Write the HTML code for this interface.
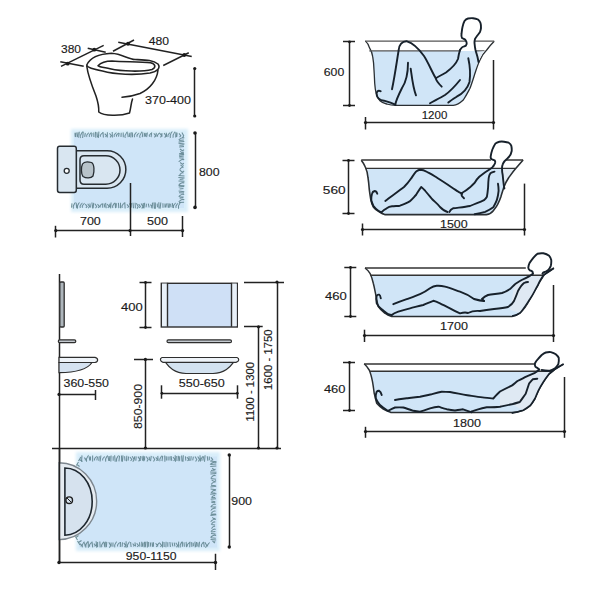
<!DOCTYPE html>
<html><head><meta charset="utf-8">
<style>
html,body{margin:0;padding:0;background:#fff;}
svg{display:block;}
text{font-family:"Liberation Sans",sans-serif;font-size:11.8px;fill:#1a1a1a;stroke:#1a1a1a;stroke-width:0.15px;}
</style></head>
<body>
<svg width="600" height="600" viewBox="0 0 600 600">
<defs>
<filter id="soft" x="-10%" y="-10%" width="120%" height="120%"><feGaussianBlur stdDeviation="1.6"/></filter>
<filter id="blur05"><feGaussianBlur stdDeviation="0.35"/></filter>
</defs>
<rect width="600" height="600" fill="#fff"/>

<g>
<line x1="61" y1="66.3" x2="103.7" y2="45.3" stroke="#222" stroke-width="1.5" stroke-linecap="butt"/>
<line x1="60.3" y1="61.7" x2="83.7" y2="66.3" stroke="#222" stroke-width="1.5" stroke-linecap="butt"/>
<line x1="87.7" y1="48.3" x2="105.7" y2="52.3" stroke="#222" stroke-width="1.5" stroke-linecap="butt"/>
<line x1="118.25" y1="42.25" x2="191.75" y2="56.5" stroke="#222" stroke-width="1.5" stroke-linecap="butt"/>
<line x1="113" y1="51.25" x2="134" y2="40" stroke="#222" stroke-width="1.5" stroke-linecap="butt"/>
<line x1="163.25" y1="65.5" x2="188.75" y2="52.75" stroke="#222" stroke-width="1.5" stroke-linecap="butt"/>
<line x1="194.5" y1="68.5" x2="194.5" y2="116" stroke="#222" stroke-width="1.5" stroke-linecap="butt"/>
<circle cx="67.7" cy="63.7" r="1.9" fill="#1a1a1a"/>
<circle cx="94.3" cy="49.7" r="1.9" fill="#1a1a1a"/>
<circle cx="128" cy="43.75" r="1.9" fill="#1a1a1a"/>
<circle cx="184.25" cy="55" r="1.9" fill="#1a1a1a"/>
<circle cx="194.75" cy="68.5" r="1.6" fill="#1a1a1a"/>
<circle cx="194.75" cy="116" r="1.6" fill="#1a1a1a"/>
<g fill="#fff" stroke="#222" stroke-width="1.55" stroke-linecap="round" stroke-linejoin="round">
<path d="M86.75,66 C88,76 92,86 96,96 C98,102 99,107 98.75,112 C104,116 120,116.5 129.5,113 C131,108 131,103 132.5,99"/>
<path fill="none" d="M158,70 C157,80 150,89 140,93.5 C132,96.5 126,97 122,97.25"/>
<path d="M86.75,65 C90,58 98,54 111.5,53.3 C122,54 128,59 135,59.5 C145,60 153,60 158,64 C161,68 157,71.5 150,73 C135,75.5 115,74.5 102.5,71 C93,69 87,67.5 86.75,65 Z"/>
<path d="M98,65.75 C101,62.5 106,61 112,61 C124,62 140,61.5 150.5,62.75 C156,64 156,67.5 152,69.5 C142,72 122,71.5 110,68.75 C104,67.5 99,67 98,65.75 Z"/>
</g>
<text x="61" y="53.2" textLength="20.00" lengthAdjust="spacingAndGlyphs" style="font-size:11.8px">380</text>
<text x="148.7" y="45.1" textLength="20.30" lengthAdjust="spacingAndGlyphs" style="font-size:11.8px">480</text>
<text x="145" y="103.8" textLength="46.00" lengthAdjust="spacingAndGlyphs" style="font-size:11.8px">370-400</text>
</g>
<rect x="71" y="129" width="117" height="83" fill="#d9eefa" filter="url(#soft)"/>
<rect x="74" y="134" width="110" height="74" fill="#cfe5f8" filter="url(#blur05)"/>
<path d="M75.0,132.8 l0.2,4.0 M76.3,132.5 l-0.7,4.6 M78.0,132.4 l-0.7,4.8 M79.3,131.8 l-0.6,6.0 M80.7,138.0 c-1.5,-3.8 2.5,-5.7 1.5,-6.3 M83.3,131.6 l-0.7,6.4 M85.3,132.8 l-0.6,4.0 M86.8,136.9 c-1.5,-2.5 2.5,-3.7 1.5,-4.1 M89.4,137.1 c-1.5,-2.8 2.5,-4.2 1.5,-4.7 M92.0,132.9 l-0.5,3.7 M93.8,132.6 l0.1,4.5 M95.5,131.9 l0.3,5.9 M96.9,132.2 l0.6,5.1 M98.9,131.6 l-0.6,6.4 M100.5,136.8 c-1.5,-2.4 2.5,-3.6 1.5,-4.0 M103.0,132.0 l0.4,5.5 M104.8,133.6 l1.8,2.2 l-1.2,1.2 M107.4,132.2 l-0.1,5.3 M109.5,133.3 l1.8,2.5 l-1.2,1.5 M112.2,132.0 l0.2,5.6 M114.3,137.0 c-1.5,-2.6 2.5,-4.0 1.5,-4.4 M116.7,136.6 c-1.5,-2.2 2.5,-3.3 1.5,-3.6 M119.2,132.8 l-0.7,3.9 M121.2,132.7 l-0.2,4.3 M123.2,132.4 l0.1,4.9 M125.3,137.9 c-1.5,-3.7 2.5,-5.5 1.5,-6.1 M127.6,132.5 l0.6,4.6 M129.8,132.8 l-0.4,4.1 M131.2,132.2 l-0.4,5.3 M132.4,132.5 l0.1,4.7 M134.5,137.3 c-1.5,-3.0 2.5,-4.6 1.5,-5.1 M137.2,136.7 c-1.5,-2.2 2.5,-3.4 1.5,-3.7 M140.1,137.9 c-1.5,-3.7 2.5,-5.5 1.5,-6.1 M142.9,132.4 l-0.6,4.7 M144.7,132.9 l-0.5,3.8 M146.1,132.9 l-0.8,3.7 M147.4,132.5 l-0.8,4.6 M149.5,136.8 c-1.5,-2.4 2.5,-3.6 1.5,-4.0 M151.7,132.5 l-0.6,4.6 M153.8,133.3 l1.8,2.5 l-1.2,1.5 M156.3,132.9 l-0.3,3.9 M157.7,136.8 c-1.5,-2.4 2.5,-3.6 1.5,-4.0 M159.8,133.2 l1.8,2.6 l-1.2,1.6 M161.9,133.0 l0.0,3.7 M164.1,133.0 l1.8,2.8 l-1.2,1.8 M166.3,132.8 l0.4,4.1 M168.1,137.1 c-1.5,-2.7 2.5,-4.1 1.5,-4.5 M170.3,138.0 c-1.5,-3.9 2.5,-5.8 1.5,-6.5 M173.1,137.8 c-1.5,-3.6 2.5,-5.4 1.5,-6.0 M175.9,132.3 l-0.2,5.1 M177.1,132.6 l-0.4,4.4 M179.0,133.4 l1.8,2.4 l-1.2,1.4 M181.9,132.6 l1.8,3.2 l-1.2,2.2" fill="none" stroke="#62858f" stroke-width="1.05" opacity="0.9"/>
<path d="M72.0,203.4 l-0.5,4.2 M73.4,208.6 c-1.5,-3.7 2.5,-5.6 1.5,-6.2 M76.2,202.8 l0.5,5.5 M77.5,208.6 c-1.5,-3.7 2.5,-5.6 1.5,-6.2 M80.3,208.0 c-1.5,-3.0 2.5,-4.5 1.5,-5.0 M82.5,207.8 c-1.5,-2.7 2.5,-4.1 1.5,-4.5 M85.3,204.1 l1.8,2.4 l-1.2,1.4 M87.7,203.7 l1.8,2.8 l-1.2,1.8 M89.9,203.5 l0.6,4.0 M91.9,202.5 l0.8,6.0 M93.7,202.9 l-0.6,5.2 M94.9,203.8 l1.8,2.7 l-1.2,1.7 M97.5,204.1 l1.8,2.4 l-1.2,1.4 M100.3,207.6 c-1.5,-2.5 2.5,-3.8 1.5,-4.2 M102.6,203.4 l0.1,4.3 M104.1,203.5 l0.7,4.0 M105.6,202.9 l0.6,5.3 M107.2,204.0 l1.8,2.5 l-1.2,1.5 M109.8,203.7 l-0.1,3.6 M111.1,202.5 l-0.5,5.9 M112.8,208.1 c-1.5,-3.1 2.5,-4.7 1.5,-5.2 M115.1,202.9 l0.5,5.2 M116.4,203.3 l-0.4,4.3 M118.4,202.9 l0.4,5.2 M120.5,202.8 l0.0,5.4 M122.2,207.9 c-1.5,-2.9 2.5,-4.4 1.5,-4.9 M124.8,202.3 l0.3,6.3 M126.9,204.3 l1.8,2.2 l-1.2,1.2 M129.4,203.5 l1.8,3.0 l-1.2,2.0 M131.5,203.1 l-0.7,4.9 M133.0,202.7 l0.5,5.5 M135.1,202.7 l0.3,5.7 M136.4,203.3 l1.8,3.2 l-1.2,2.2 M138.6,204.1 l1.8,2.4 l-1.2,1.4 M141.1,203.5 l1.8,3.0 l-1.2,2.0 M143.3,203.0 l-0.3,5.1 M144.7,202.7 l-0.8,5.7 M146.4,203.7 l-0.3,3.6 M148.3,203.6 l0.8,3.8 M150.3,204.6 l1.8,1.9 l-1.2,0.9 M152.5,202.6 l-0.4,5.9 M153.9,202.4 l0.5,6.2 M155.3,202.4 l0.1,6.3 M157.2,203.6 l0.3,3.7 M158.8,202.3 l0.2,6.3 M160.8,202.5 l-0.7,6.1 M162.9,203.2 l0.1,4.6 M165.0,203.5 l0.0,4.0 M166.5,203.5 l-0.7,4.0 M167.9,203.3 l0.4,4.5 M169.4,203.5 l-0.2,4.1 M170.6,203.7 l0.4,3.6 M172.3,203.0 l0.7,5.0 M173.6,207.9 c-1.5,-2.9 2.5,-4.4 1.5,-4.8 M176.1,207.9 c-1.5,-2.8 2.5,-4.3 1.5,-4.7 M178.6,208.7 c-1.5,-3.9 2.5,-5.8 1.5,-6.4" fill="none" stroke="#62858f" stroke-width="1.05" opacity="0.9"/>
<path d="M184.3,138.0 c-3.4,-1.5 -5.1,2.5 -5.6,1.5 M179.2,140.6 l4.6,-0.7 M178.6,142.0 l5.7,-0.4 M178.5,143.3 l6.0,0.6 M179.4,145.2 l4.3,-0.3 M179.1,146.9 l4.9,-0.4 M179.9,149.0 l2.6,1.8 l1.6,-1.2 M180.3,151.3 l2.2,1.8 l1.2,-1.2 M179.2,153.6 l4.7,-0.0 M179.0,155.3 l5.1,-0.8 M179.1,156.8 l4.7,-0.7 M179.4,158.0 l4.3,0.1 M184.2,159.7 c-3.3,-1.5 -4.9,2.5 -5.5,1.5 M180.1,162.5 l2.4,1.8 l1.4,-1.2 M180.5,164.8 l2.0,1.8 l1.0,-1.2 M183.4,167.5 c-2.2,-1.5 -3.3,2.5 -3.7,1.5 M179.8,170.3 l2.7,1.8 l1.7,-1.2 M183.5,173.1 c-2.4,-1.5 -3.6,2.5 -4.0,1.5 M178.5,175.6 l6.0,0.5 M178.4,177.6 l6.2,0.3 M179.7,179.5 l3.7,-0.6 M178.5,181.1 l6.0,0.1 M184.3,182.9 c-3.3,-1.5 -5.0,2.5 -5.6,1.5 M178.5,185.4 l5.9,0.4 M178.7,187.1 l5.5,-0.7 M179.6,189.0 l3.8,-0.4 M178.6,191.0 l5.7,0.8 M179.0,192.7 l5.0,0.3 M184.2,194.6 c-3.3,-1.5 -4.9,2.5 -5.5,1.5 M179.3,196.7 l4.3,0.4 M179.7,198.2 l3.6,-0.7 M184.3,199.7 c-3.4,-1.5 -5.0,2.5 -5.6,1.5 M179.0,202.4 l5.1,-0.1" fill="none" stroke="#62858f" stroke-width="1.05" opacity="0.9"/>
<g stroke="#262c31" stroke-width="1.5" stroke-linejoin="round">
<path d="M76.3,150.8 H107.1 A18.75,18.75 0 0 1 107.1,188.3 H76.3 Z" fill="#d9e6f1"/>
<path d="M84,155.8 H105.8 A14.2,14.2 0 0 1 105.8,184.2 H84 Q80,184.2 80,180 V160 Q80,155.8 84,155.8 Z" fill="#d9e6f1"/>
<rect x="57.5" y="146.3" width="18.8" height="46.2" rx="2.2" fill="#d9e6f1"/>
<path d="M82.5,164 C 84,161.5 88,161.5 91.5,162.5 C 94.5,164 94.5,172 93,176 C 91,178.5 86,178.5 83,176.5 C 81,174 81,167 82.5,164 Z" fill="#b8c3ca" stroke-width="1.3"/>
<circle cx="66.7" cy="170.8" r="2.5" fill="#fff" stroke-width="1.3"/>
</g>
<line x1="195.5" y1="133" x2="195.5" y2="207.4" stroke="#222" stroke-width="1.5" stroke-linecap="butt"/>
<line x1="130.5" y1="183" x2="130.5" y2="236" stroke="#222" stroke-width="1.5" stroke-linecap="butt"/>
<line x1="182.5" y1="216" x2="182.5" y2="237" stroke="#222" stroke-width="1.5" stroke-linecap="butt"/>
<line x1="55.8" y1="230.5" x2="182.6" y2="230.5" stroke="#222" stroke-width="1.5" stroke-linecap="butt"/>
<line x1="55.5" y1="225.8" x2="55.5" y2="237.5" stroke="#222" stroke-width="1.5" stroke-linecap="butt"/>
<circle cx="195" cy="133" r="1.8" fill="#1a1a1a"/>
<circle cx="195" cy="207.4" r="1.8" fill="#1a1a1a"/>
<circle cx="55.8" cy="230.6" r="1.6" fill="#1a1a1a"/>
<circle cx="130" cy="230.6" r="1.6" fill="#1a1a1a"/>
<circle cx="182.6" cy="230.6" r="1.6" fill="#1a1a1a"/>
<text x="199" y="176" textLength="20.60" lengthAdjust="spacingAndGlyphs" style="font-size:11.8px">800</text>
<text x="80" y="225.2" textLength="20.80" lengthAdjust="spacingAndGlyphs" style="font-size:11.8px">700</text>
<text x="147" y="225.3" textLength="21.00" lengthAdjust="spacingAndGlyphs" style="font-size:11.8px">500</text>
<path d="M369.3,50.9 H484 C 480,56 477,63 475,73.3 C 473,80 471,85 470,88.3 C 467,95 465,99 463.3,100 C 460,103 456,105 453.3,105.3 H396 C 391,105.3 388,105 386.7,104 C 383,103 381,102 380,100.7 C 378,98 376.5,95 376,92.7 C 375,89 374.7,86 374.7,83.3 C 374.5,76 374.3,72 374,70 C 373.5,63 373,59 372.7,56.7 C 371.5,53 370.5,51.5 369.3,50.9 Z" fill="#d0e5f7"/>
<path d="M365.3,40.9 C 367.5,43 369,45.5 369.3,47.3 C 371,50 372.2,53 372.7,56.7 C 373.5,61 373.8,65 374,70 C 374.3,74 374.5,79 374.7,83.3 C 375,87 375.3,90 376,92.7 C 377,96 378.5,99 380,100.7 C 382,102.5 384,103.5 386.7,104 C 390,105 393,105.3 396,105.3 H453.3 C 457,105 460,103 463.3,100 C 466,96 468,92 470,88.3 C 472,83 473.5,78 475,73.3 C 477,67 478.5,63 480,60 C 482,55.5 484,52.5 486.7,50 C 489,47 491.5,44 494.2,41.3" stroke="#2a2f33" fill="none" stroke-linejoin="round" stroke-width="1.3"/>
<path d="M365.3,41.1 H465.5 M474.5,41.1 H494.2" stroke="#555" stroke-width="1.3"/>
<path d="M369.3,50.8 H460.5 M475.5,50.8 H484.5" stroke="#555" stroke-width="1.3"/>
<path d="M477,52 C 478,56 478.5,60 478.3,62 C 480,58 482,54 484.5,51 Z" fill="#e2ecf5"/>
<g stroke="#17212b" stroke-width="1.9" fill="none" stroke-linecap="round" stroke-linejoin="round">
<path d="M460,50 C 461,48.5 461.5,47.5 462.5,47 C 464,46.3 465.5,46 466,45.5 C 466.8,44.5 466.8,43 466.5,42 C 466,40.8 465.5,40 465,39.5 C 464,38.8 462.8,38.5 462,38 C 461.3,36.8 461.3,35.3 461.5,34 C 461.8,31.5 462,29 462.5,27 C 463,24.8 463.6,22.6 464.5,21 C 465.5,19.6 466.7,18.8 468,18.5 C 469.7,18.2 471.3,18.1 473,18.2 C 474.8,18.4 476.5,18.8 478,19.5 C 479.2,20.6 480.1,21.8 480.5,23 C 481,24.7 481.1,26.3 481,28 C 480.8,29.4 480.5,30.7 480,32 C 479.1,33.4 478,34.7 477,36 C 476.2,37 475.5,38 475,39 C 474.6,40.3 474.4,41.7 474.5,43 C 474.7,45.3 475,47.7 475.5,50 C 476.1,52.3 476.9,54.7 477.5,57 C 477.9,58.7 478.2,60.3 478.5,62"/>
<path d="M460,50 C 459,53 458.5,56 458,59 C 456,64 452,68 446,72.5 C 441,75.5 437,77 435.8,78.3 C 436,81 439,84 441.7,86.7"/>
<path d="M435.8,78.3 C 432,72 428,62 424,56 C 419,49 413,43 407,41.3 C 402,41 399,45 398.7,50 C 397,60 395,75 392,89.3"/>
<path d="M408,62.7 C 408,72 406,82 402,88 C 399,94 396,100 395.3,104.7"/>
<path d="M410.7,68.7 C 412,78 413,88 416,95.3"/>
<path d="M380.7,91.3 C 378,89.5 376,92 376.7,95 C 377,98 380,100 384,100.7 C 389,102 393,103.5 395.3,104.7"/>
<path d="M468.3,58.3 C 470,66 470.5,75 469.5,82 C 467,90 460,95 456.7,96.7 C 453,99 450,101 448.3,102.5"/>
<path d="M460,80 C 456,85 452,90 445,95 C 440,98 434,101 430,103.3"/>
</g>
<line x1="349.5" y1="41.7" x2="349.5" y2="105" stroke="#222" stroke-width="1.5" stroke-linecap="butt"/>
<line x1="343" y1="41.5" x2="355" y2="41.5" stroke="#222" stroke-width="1.5" stroke-linecap="butt"/>
<line x1="343" y1="105.5" x2="355" y2="105.5" stroke="#222" stroke-width="1.5" stroke-linecap="butt"/>
<circle cx="349.5" cy="41.9" r="1.4" fill="#1a1a1a"/>
<circle cx="349.5" cy="105.5" r="1.4" fill="#1a1a1a"/>
<line x1="365" y1="122.5" x2="493.3" y2="122.5" stroke="#222" stroke-width="1.5" stroke-linecap="butt"/>
<line x1="365.5" y1="117" x2="365.5" y2="129.5" stroke="#222" stroke-width="1.5" stroke-linecap="butt"/>
<line x1="493.5" y1="60" x2="493.5" y2="129.5" stroke="#222" stroke-width="1.5" stroke-linecap="butt"/>
<circle cx="365.5" cy="122.5" r="1.6" fill="#1a1a1a"/>
<circle cx="493.5" cy="122.5" r="1.6" fill="#1a1a1a"/>
<text x="323.75" y="75.9" textLength="20.45" lengthAdjust="spacingAndGlyphs" style="font-size:11.8px">600</text>
<text x="421.7" y="118.8" textLength="25.60" lengthAdjust="spacingAndGlyphs" style="font-size:11.8px">1200</text>
<path d="M367.3,168.4 H515.5 C 513,171.5 511,174.5 508.5,178 C 506.5,181 505,184 503.8,187.3 C 503,190 502,193 500.9,196.7 C 500.3,198.5 499.5,200.5 498,203.7 C 497,206 495.5,208 493.3,210.7 C 492,212.5 490,214 486.3,214.6 H384.7 C 382,214 381,213 380,212.3 C 377,210.5 374.5,209 373.3,207 C 371.5,204 371,201 370.7,199 C 370,195 369.5,192 369.3,189.7 C 369,185 368.5,181 368,177.7 C 367.7,173 367.5,170 367.3,168.4 Z" fill="#d0e5f7"/>
<path d="M502.5,168.4 H515.5 C 513,171.5 511,174.5 508.5,178 C 506.5,181 505,184 503.8,187.3 C 503.3,183 502.2,178 502,172 Z" fill="#e2ecf5"/>
<path d="M361.3,160.3 C 363,162.5 364.5,165 365.3,167 C 367,170.5 367.7,174 368,177.7 C 368.7,182 369,186 369.3,189.7 C 369.7,193 370.2,196 370.7,199 C 371.3,202 372,204.5 373.3,207 C 375,209.5 377.5,211 380,212.3 C 381.5,213.2 383,214 384.7,214.6 H486.3 C 490,214 492,212.5 493.3,210.7 C 495.5,208 497,206 498,203.7 C 499.5,200.5 500.3,198.5 500.9,196.7 C 502,193 503,190 503.8,187.3 C 505,184 506.5,181 508.5,178 C 511,174.5 513,171.5 515.5,168.7 L 523.1,159.9" stroke="#2a2f33" fill="none" stroke-linejoin="round" stroke-width="1.6"/>
<line x1="361.3" y1="160.1" x2="523.1" y2="160.1" stroke="#333" stroke-width="1.5"/>
<line x1="365.3" y1="168.4" x2="515.5" y2="168.4" stroke="#333" stroke-width="1.4"/>
<path d="M491,161 C 490,156 492,148 496,143.5 C 501,140.5 508,141.5 511,145 C 513,150 510,156 505,161 Z" fill="#fff"/>
<g stroke="#17212b" stroke-width="1.9" fill="none" stroke-linecap="round" stroke-linejoin="round">
<path d="M493.3,166.3 C 494.5,164.5 495.5,163 495.3,162.3 C 495,161 494.7,160.5 494.7,160.3 C 493,159.8 492,159.5 491.7,159.3 C 490.5,158.5 490.5,157.5 490.7,156.3 C 491,154 491.5,152 492.3,149.7 C 493.2,147.5 494,145.5 495.3,143.7 C 496.5,142.5 498,142 499.3,141.7 C 501,141.5 502.5,141.5 504,141.7 C 505.5,141.9 507.3,142.2 508.7,142.7 C 510,143.5 511,144.5 511.3,145.7 C 511.7,147.5 511.8,149.5 511.7,151 C 511.3,153 510.5,155 509.3,156.3 C 508,158 506.5,159.5 504.7,161 C 503.8,162 503.2,163 502.7,164.3 C 502.2,165.5 502,167 502,168.3 C 502,170.5 502.2,173 502.7,175 C 503,178.5 503.4,182 503.8,185 C 504,186.3 504.2,187.5 504.4,188.5"/>
<path d="M493.3,166.3 C 492.8,167 492.2,167.5 491.6,168 C 489.5,169.5 487.5,170.8 485.2,172.2 C 483,173.8 481.2,175.2 479.3,176.8 C 477.5,178.5 476,180.5 474.7,182.7 C 473,184.3 471.5,185.8 470,187.3 C 467.5,189.5 465,191.5 462.2,192.75 C 461,193.5 461.5,195.5 462.2,196.4 C 463,197.3 463.5,197.8 464,198.25"/>
<path d="M462.2,193.7 C 460.5,192.8 459.5,192.3 458.5,191.8 C 455,189.5 451,187 447.5,184.5 C 443,181.5 439,179 434.7,176.25 C 431,174 428,172.5 426.7,171.7 C 424,170 422,169.7 420,169.7 C 418,170 417,171 416,171.7 C 414,174 412.5,176.5 410.7,179 C 408,183 406,185 404,187 C 400,190 397,192.5 393.3,195 C 390.5,197 388,199 385.3,201"/>
<path d="M381.3,212.3 C 383,210.5 385,209 386.7,208.3 C 388.5,207 390,206.5 392,206.3 C 395,206 397.5,206 400,205.7 C 403.5,204.5 406.5,203 409.3,201.7 C 412,199.5 414,197 416,195 C 418,192 419.5,189 421.3,187 C 422.8,188 424,189.5 425.3,191 C 427.5,193.5 429.5,196 432,199 C 435,202 438,204 440,207 C 443,210 445.5,211.5 447.5,212"/>
<path d="M377.3,193.7 C 376.5,191.5 375.5,191 374.7,191 C 373,191.3 372.3,192.5 372,193.7 C 371.3,196 371.2,198 371.3,200.3 C 371.8,202.5 372.5,204 373.3,205.7 C 375,208 376.8,209.8 378.7,211 C 379.8,211.8 380.5,212 381.3,212.3"/>
<path d="M494.5,171.6 C 493,172 491.5,172.5 490.4,173.3 C 489.3,174.8 488.9,176.3 488.7,178 C 488.3,181 488.2,184 488.1,187.3 C 487.8,190.5 487.5,193.5 486.9,196.7 C 486.2,198 485.2,199.3 484,200.2 C 481.8,201.3 479.5,202.2 477,203.1 C 474.7,204 472.3,205 470,206 C 465,207 459,207.5 453,208.3 C 451,209 450,210.5 449.3,212"/>
<path d="M498,183.8 C 498.4,186 498.6,188.5 498.6,190.8 C 498.3,194 497.7,197.2 496.8,200.2 C 495.8,202.8 494.7,205 493.3,207.2 C 490.8,209 488,210.5 485.2,211.8 C 481.8,212.8 478.3,213.6 474.7,214.2"/>
</g>
<line x1="348.5" y1="160" x2="348.5" y2="213.6" stroke="#222" stroke-width="1.5" stroke-linecap="butt"/>
<line x1="342.5" y1="160.5" x2="354.5" y2="160.5" stroke="#222" stroke-width="1.5" stroke-linecap="butt"/>
<line x1="342.5" y1="213.5" x2="354.5" y2="213.5" stroke="#222" stroke-width="1.5" stroke-linecap="butt"/>
<circle cx="348.5" cy="160.5" r="1.4" fill="#1a1a1a"/>
<circle cx="348.5" cy="213.5" r="1.4" fill="#1a1a1a"/>
<line x1="362.4" y1="229.5" x2="524.9" y2="229.5" stroke="#222" stroke-width="1.5" stroke-linecap="butt"/>
<line x1="362.5" y1="223.5" x2="362.5" y2="235.5" stroke="#222" stroke-width="1.5" stroke-linecap="butt"/>
<line x1="524.5" y1="183.6" x2="524.5" y2="235.5" stroke="#222" stroke-width="1.5" stroke-linecap="butt"/>
<circle cx="362.5" cy="229.5" r="1.6" fill="#1a1a1a"/>
<circle cx="524.5" cy="229.5" r="1.6" fill="#1a1a1a"/>
<text x="322.8" y="193.8" textLength="22.80" lengthAdjust="spacingAndGlyphs" style="font-size:11.8px">560</text>
<text x="440" y="228" textLength="27.70" lengthAdjust="spacingAndGlyphs" style="font-size:11.8px">1500</text>
<path d="M370.8,275 H544 C 541,279 539,282 538,285 C 535,290 533,295 530,299 C 527,305 524,309 520,313 C 517,315 514.5,316 512,316.4 H391.7 C 389,316 387,315 385,313.3 C 382,311 380,309 378.3,306.7 C 377,302 376.5,298 375.8,295 C 375,290 374,286 373.3,283.3 C 372.5,280 371.8,277 370.8,275 Z" fill="#d0e5f7"/>
<path d="M365,268 C 367,269.5 369,271.5 370,273.3 C 371.5,276.5 372.5,280 373.3,283.3 C 374.3,287 375,291 375.8,295 C 376.5,299 377.3,303 378.3,306.7 C 380,309.5 382.5,311.5 385,313.3 C 387,315 389.5,316 391.7,316.6 H512 C 515,316 517.5,315 520,313 C 524,309.5 527,305 530,299 C 532.5,294 535,289.5 538,285 C 540,281 542,278 544,275 C 547,272 550.5,270 554,268" stroke="#2a2f33" fill="none" stroke-linejoin="round" stroke-width="1.5"/>
<path d="M515,284.2 C 517.2,282.8 519.5,281.3 521.7,280 C 524.5,278.7 527.3,277.3 530,275.8 L 532.9,275.2 H544 C 541,279 539,282 538,285 C 535,290 533,295 530,299 C 527,305 524,309 520,313 L 510,310 C 512,300 513,290 515,284.2 Z" fill="#dfe9f3"/>
<line x1="365" y1="268" x2="525.8" y2="268" stroke="#333" stroke-width="1.5"/>
<line x1="370" y1="275.2" x2="543.3" y2="275.2" stroke="#333" stroke-width="1.4"/>
<g stroke="#17212b" stroke-width="1.9" fill="none" stroke-linecap="round" stroke-linejoin="round">
<path d="M532.9,273.75 C 532.8,272.8 532.7,272.2 532.5,271.7 C 531.7,271 530.8,270.8 530,270.4 C 528.8,269.5 528.2,268.5 528.3,267.5 C 528.4,265.8 528.9,264.3 529.6,262.9 C 530.8,261.2 532,259.5 533.3,257.9 C 534.6,256.3 536,254.8 537.5,253.75 C 539.4,253.2 541.4,253.1 543.3,253.3 C 545.5,253.8 547.5,254.6 549.2,255.8 C 550.3,257 551,258.5 551.25,260 C 551.4,262 551.2,264 550.8,265.8 C 550.2,267.4 549.3,268.8 548.3,270 C 546.8,271.1 545,272 543.3,272.5 C 542.9,272.9 542.7,273.3 542.5,273.75"/>
<path d="M532.9,273.75 C 532,274.5 531,275.2 530,275.8 C 527.3,277.3 524.5,278.7 521.7,280 C 519.5,281.3 517.2,282.8 515,284.2 C 513.3,285.8 511.7,287.4 510,289 C 507,291 505,292 502,293 C 497,294 492,294 488,295 C 485.5,296 483.5,297.5 482,299 C 483,300 483.5,300.5 484,301"/>
<path d="M393.3,304.2 C 397.5,302.5 402,300.8 406.7,299.2 C 411.5,297.5 416,296 420,294.2 C 424,292.5 427,290.5 430,288.3 C 432,287 434.5,286 436.7,285.8 C 439.5,285.6 442.5,286 445,286.7 C 450,288 455,290 460,291.7 C 465,293.5 470,296 474,299 C 477.5,300 481,300.8 484,301"/>
<path d="M391.7,315 C 393.5,313.5 396,312.5 398.3,311.7 C 402,310.5 406,309.3 410,308.3 C 414.5,307.2 419,306 423.3,305 C 427,303.5 430,302 433.3,300.8 C 435.5,301.3 437.8,302.3 440,303.3 C 443.5,305 446.5,306.7 450,308.3 C 453,310 456.5,311.8 460,313.3 C 463,312.5 465.5,312 468,313 C 471,311.5 475,310.5 480,311 C 485,310 489,309.5 494,309 C 499,308.5 504,308 508,307 C 511,305 513,303 514,301 C 515.5,297.5 517,294 518,291 C 520,287.5 522,284.5 524,283 C 525.5,282.3 526.8,282 528,282"/>
<path d="M380.8,298.3 C 380.5,296.5 380,295 379.2,294.7 C 378,294.5 377,295 376.7,295.8 C 376,298 376,301 376.7,303.3 C 377.8,305.5 379.5,307.5 381.7,309.2 C 384,311 386,312.8 388.3,314.2 C 389.5,314.8 390.5,315 391.7,315"/>
</g>
<path d="M553.75,268.3 C 550,271 547,273 543.3,275.4 C 541,279 539,282 538,285 C 535,290 533,295 530,299 C 526,305 523,310 520,313 C 517,315 514.5,316 512,316" fill="none" stroke="#17212b" stroke-width="1.7"/>
<line x1="350.5" y1="267.5" x2="350.5" y2="316.5" stroke="#222" stroke-width="1.5" stroke-linecap="butt"/>
<line x1="344.3" y1="267.5" x2="356.3" y2="267.5" stroke="#222" stroke-width="1.5" stroke-linecap="butt"/>
<line x1="344.3" y1="316.5" x2="356.3" y2="316.5" stroke="#222" stroke-width="1.5" stroke-linecap="butt"/>
<circle cx="350.5" cy="267.5" r="1.4" fill="#1a1a1a"/>
<circle cx="350.5" cy="316.5" r="1.4" fill="#1a1a1a"/>
<line x1="364.5" y1="335.5" x2="553" y2="335.5" stroke="#222" stroke-width="1.5" stroke-linecap="butt"/>
<line x1="364.5" y1="329.7" x2="364.5" y2="342" stroke="#222" stroke-width="1.5" stroke-linecap="butt"/>
<line x1="553.5" y1="285" x2="553.5" y2="342" stroke="#222" stroke-width="1.5" stroke-linecap="butt"/>
<circle cx="364.5" cy="335.5" r="1.6" fill="#1a1a1a"/>
<circle cx="553.5" cy="335.5" r="1.6" fill="#1a1a1a"/>
<text x="325" y="300" textLength="21.80" lengthAdjust="spacingAndGlyphs" style="font-size:11.8px">460</text>
<text x="440" y="330.3" textLength="28.00" lengthAdjust="spacingAndGlyphs" style="font-size:11.8px">1700</text>
<path d="M370.8,371.3 H551.3 C 550.5,372.4 549.8,373.2 549,374 C 547,376.6 545,379.4 543.2,382.2 C 541.5,384.9 539.9,387.6 538.5,390.3 C 537.3,393 536.1,395.8 535,398.5 C 533.5,401 532,403.3 530.3,405.5 C 528,407.3 525.7,408.9 523.3,410.2 C 519.5,411.5 515.6,412.5 511.7,413.1 H390 C 387,412 385,410.5 383.3,409.2 C 380,407 378,405 376.7,403.3 C 375.8,400 375,396.5 374.2,393.3 C 373.5,389 373,385 372.5,381.7 C 372,377.5 371.5,374 370.8,371.3 Z" fill="#d0e5f7"/>
<path d="M364.2,363.8 C 366,365.5 368,368 369.2,370 C 370.8,373.5 371.8,378 372.5,381.7 C 373.2,385.5 373.7,389.5 374.2,393.3 C 375,396.5 375.8,400 376.7,403.3 C 378.5,405.5 381,407.5 383.3,409.2 C 385.5,410.5 387.8,411.5 390,412 L 391,412.5 H511.7 C 515.6,412.5 519.5,411.5 523.3,410.2 C 525.7,408.9 528,407.3 530.3,405.5 C 532,403.3 533.5,401 535,398.5 C 536.1,395.8 537.3,393 538.5,390.3 C 539.9,387.6 541.5,384.9 543.2,382.2 C 545,379.4 547,376.6 549,374 C 550.9,372.4 552.8,370.8 554.8,369.3 C 557.7,367.5 560.6,365.8 563.6,364.1" stroke="#2a2f33" fill="none" stroke-linejoin="round" stroke-width="1.5"/>
<path d="M500,391.5 C 503.8,389.5 507.8,387.5 511.7,385.7 C 513.7,384.2 515.6,382.5 517.5,381 C 520.6,379.4 523.7,377.8 526.8,376.3 C 529.5,375.2 532.3,374 535,372.8 L 537.3,371.3 H551.3 C 549.8,373.2 547,376.6 543.2,382.2 C 541.5,384.9 539.9,387.6 538.5,390.3 C 537.3,393 536.1,395.8 535,398.5 C 533.5,401 532,403.3 530.3,405.5 C 528,407.3 525.7,408.9 523.3,410.2 L 511.7,404.3 L 500,406.7 Z" fill="#dfe9f3"/>
<line x1="364.2" y1="364.1" x2="535" y2="364.1" stroke="#333" stroke-width="1.5"/>
<line x1="370" y1="371.2" x2="551.3" y2="371.2" stroke="#333" stroke-width="1.4"/>
<g stroke="#17212b" stroke-width="1.9" fill="none" stroke-linecap="round" stroke-linejoin="round">
<path d="M539.2,369.6 C 538.8,369 538.4,368.6 537.9,368.3 C 537,367.8 536,367.4 535.4,366.7 C 534.8,365.6 534.7,364.4 535,363.3 C 535.8,361.8 536.8,360.4 537.9,359.2 C 539.1,357.8 540.4,356.3 541.7,355 C 543,354 544.4,353 545.8,352.5 C 547.5,352.1 549.2,352 550.8,352.1 C 552.6,352.6 554.3,353.2 555.8,354.2 C 557.1,355.3 558.2,356.6 558.75,357.9 C 559,360 558.8,362.2 558.3,364.2 C 557.4,365.8 556.3,367.2 555,368.3 C 553.2,369.3 551.2,370.2 549.2,370.8 C 546.7,370.9 544.2,370.6 541.7,370"/>
<path d="M395,400 C 399,399.3 403,398.8 406.7,398.3 C 411,397.8 415.5,397.3 420,396.7 C 424,396 428,395 431.7,394.2 C 435,393.3 438.5,392.3 441.7,391.7 C 444.5,391.7 447.3,392 450,392 C 456,393 461.5,394.3 467.3,395.25 C 472.5,396 477.5,396.8 482.5,397.4 C 486,397.8 490,398.3 493.3,398.5 C 495.5,396 497.7,393.5 500,391.5 C 503.8,389.5 507.8,387.5 511.7,385.7 C 513.7,384.2 515.6,382.5 517.5,381 C 520.6,379.4 523.7,377.8 526.8,376.3 C 529.5,375.2 532.3,374 535,372.8 C 535.8,372.2 536.5,371.6 537.3,371.1 C 537.9,370.6 538.6,370.1 539.2,369.6"/>
<path d="M537.3,378.7 C 535.8,378.9 534.2,379.1 532.7,379.3 C 531.5,380.6 530.3,382 529.2,383.3 C 528,386.8 526.9,390.3 525.7,393.8 C 523.7,396.5 521.8,399.3 519.8,402 C 517.1,402.8 514.4,403.6 511.7,404.3 C 507.8,405.1 503.9,405.9 500,406.7 C 495.5,407.2 491,407.2 486.8,407.2 C 484,407.8 481,408.5 478.2,409.3 C 476,410 473.8,410.8 471.7,411.5"/>
<path d="M388.3,410.8 C 390.5,409.5 392.8,408.3 395,407.5 C 397.8,407.3 400.5,407.3 403.3,407.5 C 406.5,408.5 410,409.8 413.3,410.8 C 415.5,411.3 417.8,411.6 420,411.7 C 423.3,410.8 426.7,409.5 430,408.3 C 432.8,407.6 435.5,407 438.3,406.7 C 441,407.5 444,408.5 446.7,409.2 C 449.5,409.8 452.5,410.3 455,410.5 C 458,410 461,409.5 463,409.3 C 466,410.3 469,411.5 471.7,412.3"/>
<path d="M381.7,395 C 381.2,393 380.5,391.5 379.2,390.8 C 378,390.7 377.2,391 376.7,391.7 C 375.8,393.8 375.5,396 375.8,398.3 C 376.8,400.8 378.3,403 380,405 C 382,406.8 384.3,408.5 386.7,410 C 387.3,410.3 387.8,410.6 388.3,410.8"/>
</g>
<path d="M563.6,364.1 C 560.6,365.8 557.7,367.5 554.8,369.3 C 552.8,370.8 550.9,372.4 549,374 C 547,376.6 545,379.4 543.2,382.2 C 541.5,384.9 539.9,387.6 538.5,390.3 C 537.3,393 536.1,395.8 535,398.5 C 533.5,401 532,403.3 530.3,405.5 C 528,407.3 525.7,408.9 523.3,410.2 C 519.5,411.5 515.6,412.5 511.7,413.1" fill="none" stroke="#17212b" stroke-width="1.7"/>
<line x1="349.5" y1="362.5" x2="349.5" y2="410.6" stroke="#222" stroke-width="1.5" stroke-linecap="butt"/>
<line x1="343" y1="362.5" x2="355" y2="362.5" stroke="#222" stroke-width="1.5" stroke-linecap="butt"/>
<line x1="343" y1="410.5" x2="355" y2="410.5" stroke="#222" stroke-width="1.5" stroke-linecap="butt"/>
<circle cx="349.5" cy="362.5" r="1.4" fill="#1a1a1a"/>
<circle cx="349.5" cy="410.5" r="1.4" fill="#1a1a1a"/>
<line x1="365" y1="431.5" x2="564.2" y2="431.5" stroke="#222" stroke-width="1.5" stroke-linecap="butt"/>
<line x1="365.5" y1="426.8" x2="365.5" y2="437.8" stroke="#222" stroke-width="1.5" stroke-linecap="butt"/>
<line x1="564.5" y1="377" x2="564.5" y2="437.8" stroke="#222" stroke-width="1.5" stroke-linecap="butt"/>
<circle cx="365.5" cy="431.5" r="1.6" fill="#1a1a1a"/>
<circle cx="564.5" cy="431.5" r="1.6" fill="#1a1a1a"/>
<text x="323.9" y="393.2" textLength="21.60" lengthAdjust="spacingAndGlyphs" style="font-size:11.8px">460</text>
<text x="453" y="426.6" textLength="28.00" lengthAdjust="spacingAndGlyphs" style="font-size:11.8px">1800</text>
<line x1="59.5" y1="274" x2="59.5" y2="563" stroke="#222" stroke-width="1.5" stroke-linecap="butt"/>
<line x1="52" y1="448.5" x2="281" y2="448.5" stroke="#222" stroke-width="1.5" stroke-linecap="butt"/>
<rect x="59.8" y="282" width="4.4" height="45" rx="1" fill="#aeb6bc" stroke="#2e2e2e" stroke-width="1.3"/>
<rect x="58.3" y="339.8" width="17.5" height="2.8" rx="1.4" fill="#c4cad0" stroke="#2e2e2e" stroke-width="1.2"/>
<path d="M59,362.5 H92 C 88,368.5 78,372.5 59,372.7 Z" fill="#d5e2f0" stroke="#2e2e2e" stroke-width="1.2"/>
<path d="M59,357.3 H95 C 98.5,358.3 98.5,361.5 95,362.5 H59 Z" fill="#eef3f8" stroke="#2e2e2e" stroke-width="1.2"/>
<line x1="59" y1="394.5" x2="95.6" y2="394.5" stroke="#222" stroke-width="1.5" stroke-linecap="butt"/>
<line x1="95.5" y1="390" x2="95.5" y2="400" stroke="#222" stroke-width="1.5" stroke-linecap="butt"/>
<circle cx="59" cy="394.4" r="1.6" fill="#1a1a1a"/>
<text x="63.6" y="387.3" textLength="45.40" lengthAdjust="spacingAndGlyphs" style="font-size:11.8px">360-550</text>
<rect x="161.3" y="283.3" width="76" height="43.7" fill="#cfe0f6" stroke="#2e2e2e" stroke-width="1.4"/>
<rect x="162" y="283.5" width="5.5" height="42.6" fill="#e8f0f8"/>
<rect x="231.2" y="283.5" width="5.5" height="42.6" fill="#e8f0f8"/>
<line x1="167.5" y1="282.8" x2="167.5" y2="326.8" stroke="#2e2e2e" stroke-width="1.4" stroke-linecap="butt"/>
<line x1="231.5" y1="282.8" x2="231.5" y2="326.8" stroke="#2e2e2e" stroke-width="1.4" stroke-linecap="butt"/>
<rect x="167" y="339.8" width="64.5" height="2.9" rx="1.45" fill="#c4cad0" stroke="#2e2e2e" stroke-width="1.2"/>
<path d="M165.5,362.3 C 169,367 174,373 186,373.5 H213 C 225,373 230,367 233.5,362.3 Z" fill="#d3e2f0" stroke="#2e2e2e" stroke-width="1.2"/>
<path d="M162,357.5 H237 C 239.5,358.5 239.5,361.5 236,362.3 H163 C 160,361.5 159.5,358.5 162,357.5 Z" fill="#eef3f8" stroke="#2e2e2e" stroke-width="1.2"/>
<line x1="145.5" y1="282.2" x2="145.5" y2="327" stroke="#222" stroke-width="1.5" stroke-linecap="butt"/>
<line x1="139.5" y1="282.5" x2="151.5" y2="282.5" stroke="#222" stroke-width="1.5" stroke-linecap="butt"/>
<line x1="139.5" y1="327.5" x2="151.5" y2="327.5" stroke="#222" stroke-width="1.5" stroke-linecap="butt"/>
<line x1="161.9" y1="393.5" x2="237.3" y2="393.5" stroke="#222" stroke-width="1.5" stroke-linecap="butt"/>
<line x1="161.5" y1="385.3" x2="161.5" y2="398.7" stroke="#222" stroke-width="1.5" stroke-linecap="butt"/>
<line x1="237.5" y1="385.3" x2="237.5" y2="398.7" stroke="#222" stroke-width="1.5" stroke-linecap="butt"/>
<line x1="145.5" y1="359.4" x2="145.5" y2="448" stroke="#222" stroke-width="1.5" stroke-linecap="butt"/>
<line x1="134" y1="359.5" x2="153" y2="359.5" stroke="#222" stroke-width="1.5" stroke-linecap="butt"/>
<line x1="244" y1="282.5" x2="284" y2="282.5" stroke="#222" stroke-width="1.5" stroke-linecap="butt"/>
<line x1="277.5" y1="282" x2="277.5" y2="448" stroke="#222" stroke-width="1.5" stroke-linecap="butt"/>
<line x1="244" y1="326.5" x2="262.7" y2="326.5" stroke="#222" stroke-width="1.5" stroke-linecap="butt"/>
<line x1="258.5" y1="326.8" x2="258.5" y2="448" stroke="#222" stroke-width="1.5" stroke-linecap="butt"/>
<circle cx="145.4" cy="359.4" r="1.6" fill="#1a1a1a"/>
<circle cx="145.4" cy="448" r="1.6" fill="#1a1a1a"/>
<circle cx="277" cy="282" r="1.6" fill="#1a1a1a"/>
<circle cx="277" cy="448" r="1.6" fill="#1a1a1a"/>
<circle cx="258.5" cy="326.8" r="1.6" fill="#1a1a1a"/>
<circle cx="258.5" cy="448" r="1.6" fill="#1a1a1a"/>
<circle cx="145.5" cy="282.5" r="1.4" fill="#1a1a1a"/>
<circle cx="145.5" cy="327.5" r="1.4" fill="#1a1a1a"/>
<circle cx="161.9" cy="393.3" r="1.4" fill="#1a1a1a"/>
<circle cx="237.3" cy="393.3" r="1.4" fill="#1a1a1a"/>
<text x="121" y="310.8" textLength="21.70" lengthAdjust="spacingAndGlyphs" style="font-size:11.8px">400</text>
<text x="178.7" y="387.3" textLength="46.10" lengthAdjust="spacingAndGlyphs" style="font-size:11.8px">550-650</text>
<text transform="translate(142.4,429) rotate(-90)" x="0" y="0" textLength="45.00" lengthAdjust="spacingAndGlyphs" style="font-size:11.8px">850-900</text>
<text transform="translate(254.1,421.5) rotate(-90)" x="0" y="0" textLength="59.50" lengthAdjust="spacingAndGlyphs" style="font-size:11.8px">1100 - 1300</text>
<text transform="translate(272.3,390) rotate(-90)" x="0" y="0" textLength="60.70" lengthAdjust="spacingAndGlyphs" style="font-size:11.8px">1600 - 1750</text>
<rect x="76" y="452" width="144" height="99" fill="#d9eefa" filter="url(#soft)"/>
<rect x="79" y="456.5" width="138" height="91" fill="#cfe5f8" filter="url(#blur05)"/>
<path d="M82.0,455.4 l-0.5,6.2 M84.2,457.7 l1.8,1.8 l-1.2,0.8 M86.6,461.7 c-1.5,-3.8 2.5,-5.8 1.5,-6.4 M89.1,456.4 l0.7,4.2 M90.5,456.5 l0.0,4.0 M92.6,455.5 l0.0,6.0 M94.7,460.6 c-1.5,-2.6 2.5,-3.8 1.5,-4.3 M97.6,456.7 l-0.8,3.6 M99.3,456.3 l-0.6,4.5 M100.9,455.5 l-0.8,6.0 M102.8,460.5 c-1.5,-2.4 2.5,-3.5 1.5,-3.9 M105.7,461.6 c-1.5,-3.7 2.5,-5.6 1.5,-6.2 M108.0,456.1 l0.8,4.7 M109.8,456.1 l-0.4,4.8 M111.1,455.5 l-0.3,6.0 M113.2,456.3 l0.0,4.4 M114.6,455.3 l0.6,6.4 M116.6,461.6 c-1.5,-3.7 2.5,-5.6 1.5,-6.2 M119.6,455.7 l-0.7,5.7 M121.5,455.6 l0.2,5.8 M123.0,455.4 l-0.6,6.3 M124.6,456.3 l0.4,4.4 M126.8,455.8 l-0.3,5.5 M128.6,456.5 l-0.5,4.1 M130.0,457.0 l1.8,2.5 l-1.2,1.5 M132.2,456.3 l1.8,3.2 l-1.2,2.2 M134.7,456.4 l-0.7,4.1 M136.2,456.4 l-0.4,4.3 M138.0,456.6 l1.8,2.9 l-1.2,1.9 M140.4,455.9 l-0.2,5.1 M141.9,456.3 l0.7,4.4 M143.2,455.8 l0.6,5.4 M144.7,456.3 l-0.2,4.3 M146.3,456.5 l1.8,3.0 l-1.2,2.0 M149.2,456.7 l0.3,3.7 M151.3,455.9 l-0.8,5.3 M152.9,456.5 l1.8,3.0 l-1.2,2.0 M155.7,457.3 l1.8,2.2 l-1.2,1.2 M157.8,455.9 l0.3,5.1 M160.0,461.2 c-1.5,-3.3 2.5,-4.9 1.5,-5.5 M162.7,455.9 l-0.7,5.2 M164.7,455.4 l0.2,6.3 M166.2,456.3 l0.2,4.3 M168.1,456.6 l0.0,3.8 M169.9,456.4 l0.2,4.2 M171.1,456.0 l0.7,4.9 M173.0,457.0 l1.8,2.5 l-1.2,1.5 M175.2,455.3 l0.3,6.4 M176.7,456.0 l0.3,5.0 M178.3,455.7 l0.7,5.5 M179.7,456.2 l-0.1,4.6 M181.6,455.5 l0.4,5.9 M183.3,455.3 l-0.3,6.4 M185.4,456.4 l0.4,4.2 M186.9,457.0 l1.8,2.5 l-1.2,1.5 M189.0,456.1 l0.3,4.8 M191.2,456.1 l-0.5,4.7 M193.4,456.6 l-0.7,3.7 M195.0,456.4 l1.8,3.1 l-1.2,2.1 M197.7,456.4 l1.8,3.1 l-1.2,2.1 M200.0,455.3 l0.4,6.3 M201.2,460.8 c-1.5,-2.8 2.5,-4.2 1.5,-4.7 M203.6,456.5 l-0.8,4.1 M205.1,455.3 l-0.6,6.4 M207.3,456.2 l0.5,4.6 M209.3,456.6 l-0.0,3.7 M210.9,457.4 l1.8,2.1 l-1.2,1.1" fill="none" stroke="#62858f" stroke-width="1.05" opacity="0.9"/>
<path d="M80.0,543.7 l1.8,1.8 l-1.2,0.8 M82.4,547.4 c-1.5,-3.5 2.5,-5.2 1.5,-5.8 M84.5,542.6 l0.7,3.8 M85.9,547.6 c-1.5,-3.7 2.5,-5.6 1.5,-6.2 M88.2,541.3 l0.2,6.4 M89.7,546.8 c-1.5,-2.7 2.5,-4.1 1.5,-4.5 M92.0,541.6 l0.7,5.8 M93.8,543.7 l1.8,1.8 l-1.2,0.8 M96.1,541.3 l0.7,6.4 M97.6,542.1 l-0.0,4.8 M99.8,541.5 l0.4,5.9 M101.8,547.2 c-1.5,-3.2 2.5,-4.8 1.5,-5.4 M104.1,542.2 l0.5,4.6 M105.4,541.6 l-0.4,5.8 M106.7,541.9 l-0.3,5.2 M108.8,542.3 l1.8,3.2 l-1.2,2.2 M111.1,542.6 l-0.0,3.9 M113.0,542.4 l-0.1,4.3 M114.8,547.4 c-1.5,-3.5 2.5,-5.2 1.5,-5.8 M117.7,546.5 c-1.5,-2.4 2.5,-3.5 1.5,-3.9 M120.5,541.9 l-0.2,5.2 M122.5,542.4 l-0.4,4.3 M123.8,542.9 l1.8,2.6 l-1.2,1.6 M126.1,541.3 l0.0,6.5 M127.6,547.2 c-1.5,-3.3 2.5,-4.9 1.5,-5.5 M130.6,542.0 l0.5,5.0 M132.6,543.7 l1.8,1.8 l-1.2,0.8 M134.9,542.4 l0.8,4.1 M136.7,543.2 l1.8,2.3 l-1.2,1.3 M139.5,542.3 l0.4,4.3 M141.7,541.8 l0.2,5.3 M143.1,542.5 l-0.5,4.0 M144.6,541.8 l-0.5,5.5 M145.8,541.7 l-0.5,5.6 M147.3,541.5 l0.1,5.9 M148.6,542.1 l0.1,4.7 M150.4,542.5 l0.3,4.1 M152.0,542.3 l0.7,4.5 M153.5,542.2 l-0.1,4.6 M155.6,543.2 l1.8,2.3 l-1.2,1.3 M157.8,546.6 c-1.5,-2.5 2.5,-3.8 1.5,-4.2 M159.8,543.1 l1.8,2.4 l-1.2,1.4 M162.6,541.4 l-0.1,6.2 M164.0,541.9 l0.2,5.2 M166.1,541.8 l-0.2,5.4 M167.8,542.3 l0.0,4.4 M169.9,542.0 l0.5,5.0 M172.1,542.5 l0.7,3.9 M174.2,542.6 l0.7,3.7 M175.8,542.8 l1.8,2.7 l-1.2,1.7 M178.7,541.6 l-0.4,5.9 M180.3,547.5 c-1.5,-3.6 2.5,-5.4 1.5,-6.0 M182.4,542.1 l0.0,4.7 M184.0,542.4 l0.4,4.3 M186.1,541.9 l0.4,5.2 M187.4,546.5 c-1.5,-2.4 2.5,-3.5 1.5,-3.9 M190.0,541.8 l-0.3,5.4 M191.6,542.1 l0.3,4.8 M193.2,542.7 l0.2,3.6 M194.9,541.6 l0.4,5.8 M196.6,542.0 l-0.6,5.0 M197.9,542.6 l-0.1,3.8 M199.6,541.8 l-0.7,5.4 M201.6,547.0 c-1.5,-3.0 2.5,-4.6 1.5,-5.1 M203.6,542.2 l0.7,4.7 M204.9,542.3 l1.8,3.2 l-1.2,2.2 M207.7,546.6 c-1.5,-2.5 2.5,-3.7 1.5,-4.1" fill="none" stroke="#62858f" stroke-width="1.05" opacity="0.9"/>
<path d="M210.1,461.0 l6.4,0.7 M216.4,462.4 c-3.8,-1.5 -5.7,2.5 -6.3,1.5 M210.4,464.4 l5.8,-0.5 M210.3,466.5 l6.0,-0.6 M212.2,468.2 l2.1,1.8 l1.1,-1.2 M211.0,470.5 l4.5,-0.7 M210.1,471.9 l6.3,0.3 M210.4,474.0 l5.9,-0.6 M215.6,475.7 c-2.8,-1.5 -4.2,2.5 -4.6,1.5 M210.7,478.6 l5.3,0.6 M211.6,479.9 l2.7,1.8 l1.7,-1.2 M215.5,482.3 c-2.6,-1.5 -3.9,2.5 -4.3,1.5 M211.0,485.3 l4.6,0.4 M210.4,486.9 l5.8,-0.7 M210.6,488.9 l5.4,0.8 M215.5,490.7 c-2.7,-1.5 -4.0,2.5 -4.5,1.5 M211.3,492.7 l4.0,0.2 M210.2,494.3 l6.2,-0.6 M215.1,495.8 c-2.2,-1.5 -3.3,2.5 -3.6,1.5 M211.4,497.8 l3.9,-0.2 M210.7,499.2 l5.3,-0.5 M211.3,501.0 l4.0,0.7 M211.4,502.5 l3.9,0.2 M215.7,504.5 c-2.9,-1.5 -4.3,2.5 -4.8,1.5 M210.6,506.8 l5.5,0.1 M215.7,508.4 c-2.9,-1.5 -4.4,2.5 -4.9,1.5 M215.5,511.3 c-2.6,-1.5 -3.9,2.5 -4.3,1.5 M210.7,514.2 l5.1,-0.2 M210.4,515.6 l5.9,-0.8 M212.3,517.4 l2.0,1.8 l1.0,-1.2 M215.8,519.6 c-3.0,-1.5 -4.6,2.5 -5.1,1.5 M215.3,522.2 c-2.5,-1.5 -3.7,2.5 -4.1,1.5 M211.4,524.5 l3.7,0.6 M215.1,526.5 c-2.2,-1.5 -3.2,2.5 -3.6,1.5 M215.8,529.4 c-3.0,-1.5 -4.4,2.5 -4.9,1.5 M211.2,532.1 l4.2,-0.6 M211.0,533.5 l4.6,0.4 M216.1,535.4 c-3.4,-1.5 -5.1,2.5 -5.7,1.5 M210.9,537.7 l4.9,0.5 M210.6,539.4 l5.5,0.7 M212.5,540.8 l1.8,1.8 l0.8,-1.2" fill="none" stroke="#62858f" stroke-width="1.05" opacity="0.9"/>
<path d="M81,457 l-2.5,4 M79.5,459.5 l3,2 M78.5,462 l-2.2,3.5 M77,464.5 l2.5,2 M75.5,467 l-1.5,2.5 M80,545 l-2.5,-4 M78.5,542.5 l3,-2 M77.5,540 l-2.2,-3.5 M76,537.5 l2.5,-2 M74.5,535 l-1.5,-2.5" stroke="#62858f" stroke-width="1.05" fill="none" opacity="0.9"/>
<path d="M59,462.7 A37.7,38.45 0 0 1 59,539.6 Z" fill="#e6ecf2" stroke="#7d868e" stroke-width="1.4"/>
<path d="M64.9,468 A27.3,33.6 0 0 1 64.9,535.2 Z" fill="#d6e2ee" stroke="#1f2830" stroke-width="1.6"/>
<circle cx="69.2" cy="500.2" r="3.3" fill="none" stroke="#1f1f1f" stroke-width="1.4"/>
<path d="M67,498 L71.4,502.4" stroke="#1f1f1f" stroke-width="1"/>
<line x1="59.5" y1="448" x2="59.5" y2="563" stroke="#222" stroke-width="1.5" stroke-linecap="butt"/>
<line x1="229.5" y1="455" x2="229.5" y2="547" stroke="#222" stroke-width="1.5" stroke-linecap="butt"/>
<line x1="59" y1="562.5" x2="215.5" y2="562.5" stroke="#222" stroke-width="1.5" stroke-linecap="butt"/>
<line x1="215.5" y1="553.75" x2="215.5" y2="570" stroke="#222" stroke-width="1.5" stroke-linecap="butt"/>
<circle cx="229.25" cy="455" r="1.7" fill="#1a1a1a"/>
<circle cx="229.25" cy="547" r="1.7" fill="#1a1a1a"/>
<circle cx="59" cy="562.5" r="1.7" fill="#1a1a1a"/>
<circle cx="215.5" cy="562.5" r="1.7" fill="#1a1a1a"/>
<text x="231.25" y="505.4" textLength="20.75" lengthAdjust="spacingAndGlyphs" style="font-size:11.8px">900</text>
<text x="125.8" y="559.6" textLength="50.70" lengthAdjust="spacingAndGlyphs" style="font-size:11.8px">950-1150</text>
</svg>
</body></html>
